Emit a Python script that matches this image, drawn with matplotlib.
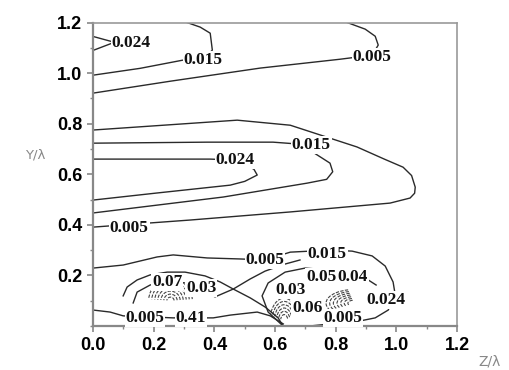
import matplotlib
matplotlib.use("Agg")
import matplotlib.pyplot as plt
from matplotlib.patches import Arc
from matplotlib.ticker import MultipleLocator

# contour lines: (z, y) in units of lambda
top_024_z = [0.0, 0.07, 0.0]
top_024_y = [1.145, 1.122, 1.09]
top_015_z = [0.0, 0.155, 0.294, 0.37, 0.393, 0.386, 0.353, 0.31]
top_015_y = [0.992, 1.019, 1.051, 1.063, 1.091, 1.158, 1.182, 1.2]
top_005_z = [0.0, 0.254, 0.551, 0.814, 0.92, 0.94, 0.93, 0.897, 0.838]
top_005_y = [0.921, 0.968, 1.02, 1.055, 1.071, 1.111, 1.146, 1.174, 1.2]

mid_005_z = [0.0, 0.475, 0.65, 0.87, 0.96, 1.022, 1.05, 1.062, 1.06, 1.045, 0.979, 0.65, 0.32, 0.0]
mid_005_y = [0.775, 0.814, 0.794, 0.708, 0.66, 0.628, 0.595, 0.549, 0.525, 0.506, 0.486, 0.451, 0.419, 0.391]
mid_015_z = [0.0, 0.376, 0.593, 0.683, 0.755, 0.781, 0.79, 0.77, 0.706, 0.429, 0.0]
mid_015_y = [0.723, 0.727, 0.727, 0.719, 0.664, 0.644, 0.61, 0.58, 0.565, 0.51, 0.447]
mid_024_z = [0.0, 0.386, 0.47, 0.53, 0.541, 0.5, 0.452, 0.211, 0.0]
mid_024_y = [0.66, 0.66, 0.656, 0.62, 0.597, 0.572, 0.557, 0.526, 0.498]

low_a_z = [0.0, 0.099, 0.211, 0.264, 0.376, 0.485, 0.567, 0.65, 0.781, 0.854, 0.92,
           0.963, 0.989, 0.996, 0.973, 0.93, 0.864, 0.781, 0.715]
low_a_y = [0.229, 0.241, 0.273, 0.281, 0.269, 0.265, 0.261, 0.292, 0.3, 0.296, 0.277,
           0.237, 0.174, 0.123, 0.063, 0.032, 0.016, 0.008, 0.0]
low_b_z = [0.0, 0.056, 0.099, 0.264, 0.396, 0.452, 0.541, 0.584, 0.627]
low_b_y = [0.063, 0.055, 0.04, 0.032, 0.032, 0.043, 0.055, 0.04, 0.008]
blob_outer_z = [0.099, 0.112, 0.145, 0.188, 0.244, 0.303, 0.369, 0.419, 0.462, 0.518,
                0.567, 0.61, 0.626]
blob_outer_y = [0.119, 0.154, 0.182, 0.202, 0.213, 0.213, 0.198, 0.174, 0.146, 0.111,
                0.075, 0.032, 0.0]
blob_second_z = [0.132, 0.145, 0.188, 0.244, 0.303, 0.353, 0.402, 0.462, 0.518, 0.567,
                 0.633, 0.682]
blob_second_y = [0.091, 0.134, 0.162, 0.178, 0.17, 0.142, 0.115, 0.146, 0.186, 0.217,
                 0.245, 0.261]
right_loop_z = [0.626, 0.577, 0.557, 0.577, 0.633, 0.699, 0.781, 0.864, 0.907, 0.933]
right_loop_y = [0.0, 0.055, 0.119, 0.17, 0.213, 0.229, 0.221, 0.202, 0.182, 0.162]

lines = [
    (top_024_z, top_024_y), (top_015_z, top_015_y), (top_005_z, top_005_y),
    (mid_005_z, mid_005_y), (mid_015_z, mid_015_y), (mid_024_z, mid_024_y),
    (low_a_z, low_a_y), (low_b_z, low_b_y), (blob_outer_z, blob_outer_y),
    (blob_second_z, blob_second_y), (right_loop_z, right_loop_y),
]

# dense peaks: centre (z, y), half widths, half heights
peak_left = (0.255, 0.1)
peak_left_rz = [0.012, 0.022, 0.032, 0.042, 0.052, 0.062, 0.072]
peak_left_ry = [0.014, 0.026, 0.038, 0.05, 0.062, 0.074, 0.086]
peak_mid = (0.63, 0.02)
peak_mid_rz = [0.012, 0.019, 0.026, 0.033, 0.04, 0.047]
peak_mid_ry = [0.025, 0.038, 0.051, 0.064, 0.077, 0.09]
peak_right = (0.86, 0.09)
peak_right_rz = [0.02, 0.032, 0.044, 0.056, 0.068, 0.08, 0.092]
peak_right_ry = [0.012, 0.019, 0.026, 0.033, 0.04, 0.047, 0.054]

labels = ["0.024", "0.015", "0.005", "0.015", "0.024", "0.005",
          "0.005", "0.015", "0.024", "0.005", "0.07", "0.03",
          "0.005", "0.41", "0.03", "0.05", "0.04", "0.06"]
label_z = [0.125, 0.363, 0.92, 0.719, 0.468, 0.119,
           0.567, 0.772, 0.966, 0.824, 0.244, 0.356,
           0.171, 0.323, 0.65, 0.752, 0.857, 0.706]
label_y = [1.12, 1.051, 1.063, 0.715, 0.656, 0.387,
           0.261, 0.285, 0.103, 0.032, 0.174, 0.15,
           0.032, 0.032, 0.142, 0.194, 0.194, 0.071]

fig = plt.figure(figsize=(5.09, 3.7), dpi=100)
ax = fig.add_axes([0.183, 0.119, 0.715, 0.82])

line_col = "#2a2a2a"
for z, y in lines:
    ax.plot(z, y, color=line_col, lw=1.0)

for (c, rzs, rys, t1, t2) in [(peak_left, peak_left_rz, peak_left_ry, 5, 175),
                              (peak_mid, peak_mid_rz, peak_mid_ry, 40, 150),
                              (peak_right, peak_right_rz, peak_right_ry, 110, 200)]:
    for rz, ry in zip(rzs, rys):
        ax.add_patch(Arc(c, 2 * rz, 2 * ry, theta1=t1, theta2=t2,
                         color="#444444", lw=0.8, ls=(0, (3, 1.2))))

for txt, z, y in zip(labels, label_z, label_y):
    ax.text(z, y, txt, ha="center", va="center", fontsize=12.5,
            family="Liberation Serif", weight="bold", color="#111111",
            bbox=dict(boxstyle="square,pad=0.05", fc="white", ec="none"))

ax.set_xlim(0, 1.2)
ax.set_ylim(0, 1.2)
ax.xaxis.set_minor_locator(MultipleLocator(0.1))
ax.yaxis.set_minor_locator(MultipleLocator(0.1))
ax.set_xticks([0.0, 0.2, 0.4, 0.6, 0.8, 1.0, 1.2])
ax.set_xticklabels(["0.0", "0.2", "0.4", "0.6", "0.8", "1.0", "1.2"])
ax.set_yticks([0.2, 0.4, 0.6, 0.8, 1.0, 1.2])
ax.set_yticklabels(["0.2", "0.4", "0.6", "0.8", "1.0", "1.2"])
ax.tick_params(which="major", direction="out", length=4, width=1.2, color="#888888",
               labelsize=13, pad=4)
ax.tick_params(which="minor", direction="out", length=2.5, width=1.0, color="#888888")
for lab in ax.get_xticklabels() + ax.get_yticklabels():
    lab.set_family("Liberation Sans")
    lab.set_weight("bold")
for side in ["left", "bottom"]:
    ax.spines[side].set_color("#888888")
    ax.spines[side].set_linewidth(1.6)
for side in ["top", "right"]:
    ax.spines[side].set_color("#999999")
    ax.spines[side].set_linewidth(1.2)

fig.text(0.05, 0.58, "Y/λ", fontsize=9.5, color="#888888", family="DejaVu Sans",
         ha="left", va="center")
fig.text(0.94, 0.022, "Z/λ", fontsize=10, color="#888888", family="DejaVu Sans",
         ha="left", va="center")

fig.savefig("out.png", dpi=100)
